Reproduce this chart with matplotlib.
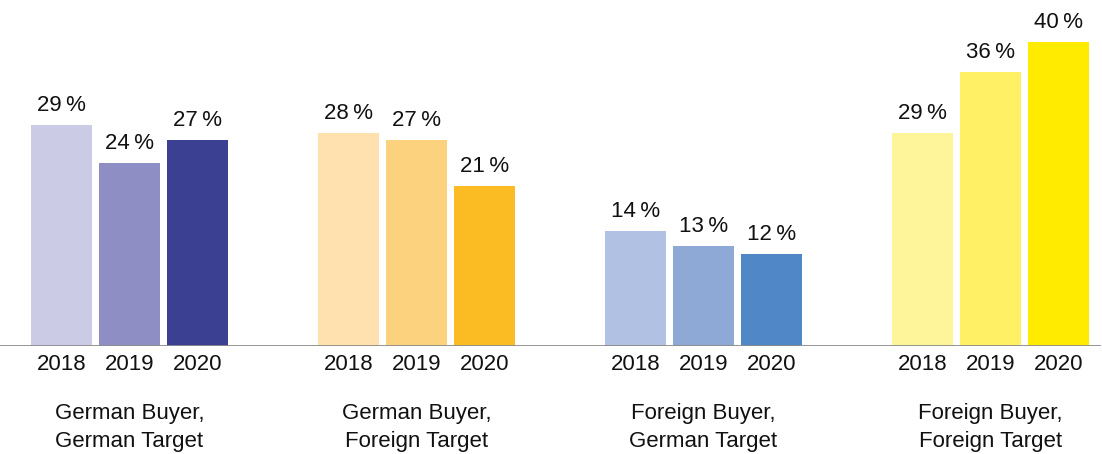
import matplotlib
matplotlib.use("Agg")
import matplotlib.pyplot as plt

plt.rcParams['font.family'] = ['Liberation Sans', 'DejaVu Sans']

# DATA
groups = ["German Buyer,\nGerman Target", "German Buyer,\nForeign Target",
          "Foreign Buyer,\nGerman Target", "Foreign Buyer,\nForeign Target"]
years = ["2018", "2019", "2020"]
# bar heights as drawn in the picture
german_german = [29.1, 24.1, 27.1]
german_foreign = [28.0, 27.1, 21.05]
foreign_german = [15.1, 13.2, 12.1]
foreign_foreign = [28.0, 36.05, 40.0]
values = [german_german, german_foreign, foreign_german, foreign_foreign]
# printed labels
labels = [[29, 24, 27], [28, 27, 21], [14, 13, 12], [29, 36, 40]]

colors = [["#CBCBE6", "#8E8EC4", "#3B4093"],
          ["#FEE1AE", "#FCD27E", "#FBBC23"],
          ["#B0C1E3", "#8FA9D7", "#5087C6"],
          ["#FEF59A", "#FFF066", "#FFEB00"]]

group_step = 4.22
bar_w = 0.9

fig = plt.figure(figsize=(11.02, 4.54), dpi=100)
ax = fig.add_axes([0, 108 / 454, 1, 346 / 454])

for g, vals in enumerate(values):
    center = 1 + g * group_step
    for i, v in enumerate(vals):
        x = center + (i - 1)
        ax.bar(x, v, width=bar_w, color=colors[g][i], linewidth=0)
        ax.annotate(f"{labels[g][i]}\u2009%", xy=(x, v), xytext=(0, 6.5), textcoords="offset points",
                    ha="center", va="bottom", fontsize=16, color="#111111")
        ax.annotate(years[i], xy=(x, 0), xytext=(0, -6), textcoords="offset points",
                    ha="center", va="top", fontsize=16, color="#111111")
    ax.annotate(groups[g], xy=(center, 0), xytext=(0, -41), textcoords="offset points",
                ha="center", va="top", fontsize=16, color="#111111", linespacing=1.45)

ax.set_xlim(-0.904, 15.30)
ax.set_ylim(0, 45.5)
ax.axhline(0, color="#8c8c8c", linewidth=1.3, xmin=0, xmax=0.998)
for s in ax.spines.values():
    s.set_visible(False)
ax.set_xticks([])
ax.set_yticks([])

fig.savefig("out.png", dpi=100)
